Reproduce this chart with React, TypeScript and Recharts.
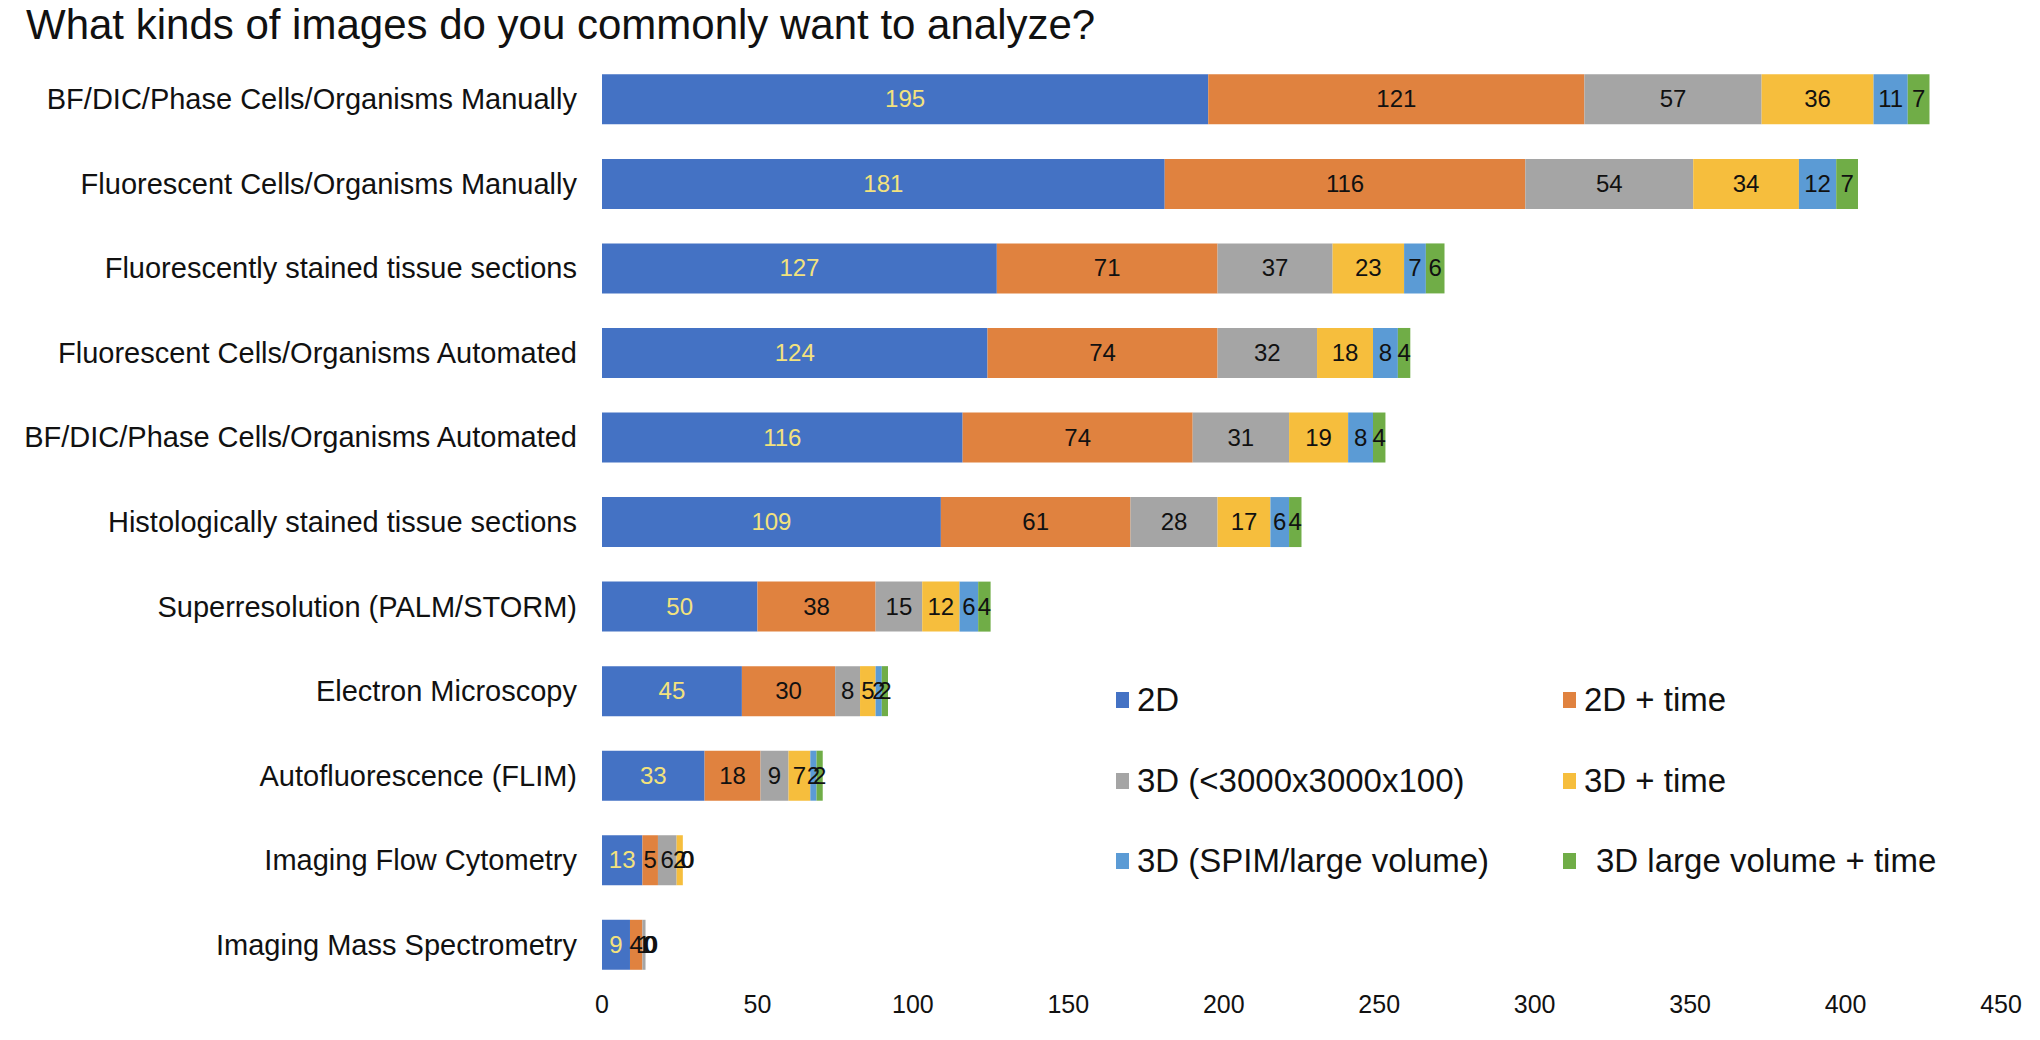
import React from 'react';
import { BarChart, Bar, XAxis, YAxis, LabelList } from 'recharts';

const categories = [
  'BF/DIC/Phase Cells/Organisms Manually',
  'Fluorescent Cells/Organisms Manually',
  'Fluorescently stained tissue sections',
  'Fluorescent Cells/Organisms Automated',
  'BF/DIC/Phase Cells/Organisms Automated',
  'Histologically stained tissue sections',
  'Superresolution (PALM/STORM)',
  'Electron Microscopy',
  'Autofluorescence (FLIM)',
  'Imaging Flow Cytometry',
  'Imaging Mass Spectrometry',
];

const values2D = [195, 181, 127, 124, 116, 109, 50, 45, 33, 13, 9];
const values2DTime = [121, 116, 71, 74, 74, 61, 38, 30, 18, 5, 4];
const values3D = [57, 54, 37, 32, 31, 28, 15, 8, 9, 6, 1];
const values3DTime = [36, 34, 23, 18, 19, 17, 12, 5, 7, 2, 0];
const values3DSpim = [11, 12, 7, 8, 8, 6, 6, 2, 2, 0, 0];
const values3DLargeTime = [7, 7, 6, 4, 4, 4, 4, 2, 2, 0, 0];

const xTicks = [0, 50, 100, 150, 200, 250, 300, 350, 400, 450];

const FONT = '"Liberation Sans", Arial, Helvetica, sans-serif';

const series = [
  { key: 'd2', name: '2D', color: '#4472C4', label: '#F3E27D', values: values2D },
  { key: 'd2t', name: '2D + time', color: '#E0823F', label: '#111', values: values2DTime },
  { key: 'd3', name: '3D (<3000x3000x100)', color: '#A5A5A5', label: '#111', values: values3D },
  { key: 'd3t', name: '3D + time', color: '#F6BE3D', label: '#111', values: values3DTime },
  { key: 'd3s', name: '3D (SPIM/large volume)', color: '#5B9BD5', label: '#111', values: values3DSpim },
  { key: 'd3lt', name: '3D large volume + time', color: '#70AD47', label: '#111', values: values3DLargeTime },
];

const data = categories.map((name, i) => {
  const row: Record<string, any> = { name };
  series.forEach(s => { row[s.key] = s.values[i]; });
  return row;
});

const CategoryTick = (props: any) => {
  const { x, y, payload } = props;
  return (
    <text x={x - 17} y={y} dy={10} textAnchor="end" fontSize={29} fontFamily={FONT} fill="#111">
      {payload.value}
    </text>
  );
};

// value label, plus "0" labels at the bar end for any zero segments that follow
const makeLabel = (seriesIndex: number) => (props: any) => {
  const { x, y, width, height, value, index } = props;
  const s = series[seriesIndex];
  const cy = y + height / 2;
  const zeros: number[] = [];
  const rest = series.slice(seriesIndex + 1);
  if (rest.length && rest.every(r => r.values[index] === 0)) {
    rest.forEach((_, k) => zeros.push(k));
  }
  return (
    <g>
      <text x={x + width / 2} y={cy} dy={8} textAnchor="middle" fontSize={24} fontFamily={FONT} fill={s.label}>
        {value}
      </text>
      {zeros.map(k => (
        <text key={k} x={x + width + 4 + k} y={cy} dy={8} textAnchor="middle" fontSize={24} fontFamily={FONT} fill="#111">
          0
        </text>
      ))}
    </g>
  );
};

const legendPos = [
  { left: 1116, top: 700 },
  { left: 1563, top: 700 },
  { left: 1116, top: 781 },
  { left: 1563, top: 781 },
  { left: 1116, top: 861 },
  { left: 1563, top: 861 },
];

const App: React.FC = () => {
  return (
    <div style={{ position: 'absolute', left: 0, top: 0, width: 2040, height: 1040, background: '#fff', fontFamily: FONT }}>
      <div style={{ position: 'absolute', left: 26, top: 1, fontSize: 42, color: '#111', whiteSpace: 'nowrap' }}>
        What kinds of images do you commonly want to analyze?
      </div>
      <BarChart
        width={2040}
        height={1040}
        data={data}
        layout="vertical"
        margin={{ top: 57, right: 39, left: 0, bottom: 0 }}
        barCategoryGap="20.5%"
      >
        <XAxis
          type="number"
          domain={[0, 450]}
          ticks={xTicks}
          axisLine={false}
          tickLine={false}
          height={53}
          interval={0}
          tick={{ fontSize: 25, fill: '#111', fontFamily: FONT }}
        />
        <YAxis
          type="category"
          dataKey="name"
          width={602}
          axisLine={false}
          tickLine={false}
          interval={0}
          tick={<CategoryTick />}
        />
        {series.map((s, i) => (
          <Bar key={s.key} dataKey={s.key} name={s.name} stackId="a" fill={s.color} isAnimationActive={false}>
            <LabelList dataKey={s.key} content={makeLabel(i)} />
          </Bar>
        ))}
      </BarChart>
      {series.map((s, i) => (
        <div
          key={s.key}
          style={{
            position: 'absolute',
            left: legendPos[i].left,
            top: legendPos[i].top - 20,
            height: 40,
            display: 'flex',
            alignItems: 'center',
            whiteSpace: 'nowrap',
            fontSize: 33,
            color: '#111',
          }}
        >
          <span style={{ display: 'inline-block', width: 13, height: 16, background: s.color, marginRight: i === 5 ? 20 : 8 }} />
          {s.name}
        </div>
      ))}
    </div>
  );
};

export default App;
